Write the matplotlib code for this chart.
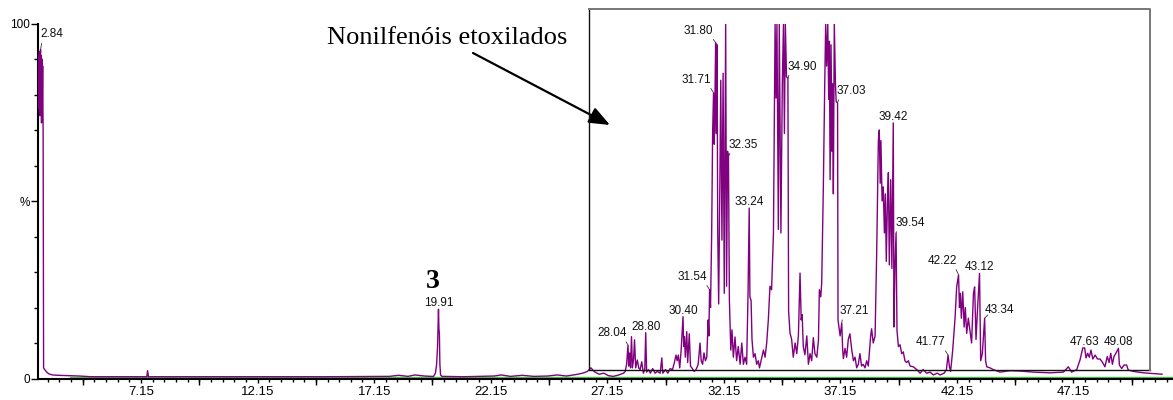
import numpy as np
import matplotlib
matplotlib.use('Agg')
import matplotlib.pyplot as plt

plt.rcParams['font.family'] = ['Liberation Sans', 'DejaVu Sans']

# chromatogram trace, retention time (min) / relative abundance (%)
solvent = [(2.73, 88), (2.75, 76), (2.76, 91), (2.78, 80), (2.79, 92), (2.81, 74),
           (2.82, 90), (2.84, 92.7), (2.85, 78), (2.87, 91), (2.88, 72), (2.90, 90),
           (2.91, 75), (2.93, 88), (2.95, 69), (2.97, 3.0), (3.02, 2.5), (3.10, 1.8),
           (3.20, 1.3), (3.35, 1.0)]
early_base = [(3.6, 0.9), (4.0, 0.8), (4.5, 0.7), (5.0, 0.5), (6.0, 0.5), (7.0, 0.5),
              (7.40, 0.5), (7.43, 2.2), (7.47, 0.5), (9.0, 0.5), (12.0, 0.5),
              (15.0, 0.5), (17.8, 0.6), (18.2, 0.9), (18.6, 0.6), (18.9, 1.0),
              (19.3, 0.7), (19.6, 0.6)]
peak_3 = [(19.70, 0.6), (19.78, 1.5), (19.83, 4), (19.87, 9), (19.91, 19.5),
          (19.93, 14), (19.95, 12.5), (19.97, 4), (20.00, 1.0), (20.06, 0.6)]
mid_base = [(21.0, 0.5), (22.3, 0.7), (22.6, 1.0), (23.0, 0.6), (23.5, 0.9),
            (24.0, 0.6), (24.6, 0.7), (25.0, 1.0), (25.4, 0.7), (25.8, 1.1),
            (26.1, 1.5), (26.3, 2.0), (26.45, 3.0), (26.6, 1.9), (26.8, 1.2),
            (27.0, 1.5), (27.2, 0.8), (27.4, 0.6), (27.6, 0.9), (27.85, 1.5)]
ne_early = [(27.92, 2.0), (27.98, 4.0), (28.04, 9.4), (28.07, 3.5), (28.11, 7.2),
            (28.15, 3.0), (28.19, 11.8), (28.23, 3.0), (28.28, 5.5), (28.32, 10.9),
            (28.37, 3.0), (28.44, 5.2), (28.50, 3.0), (28.56, 2.5), (28.63, 4.7),
            (28.70, 1.5), (28.76, 2.5), (28.80, 12.9), (28.84, 1.8), (28.92, 2.5),
            (29.00, 1.5), (29.10, 2.8), (29.20, 1.5), (29.30, 2.0), (29.42, 1.5),
            (29.49, 5.8), (29.53, 1.5), (29.65, 2.5), (29.75, 1.5), (29.85, 2.8),
            (29.95, 2.5), (30.03, 4.5), (30.10, 6.6), (30.15, 5.0), (30.20, 6.6),
            (30.26, 3.0), (30.32, 8.0), (30.40, 17.4), (30.43, 9.0), (30.46, 11.8),
            (30.50, 6.0), (30.56, 13.2), (30.60, 4.5), (30.67, 12.6), (30.72, 3.5),
            (30.80, 2.8), (30.88, 2.0), (30.96, 2.5), (31.05, 4.0), (31.13, 10.0),
            (31.18, 5.0), (31.24, 4.0), (31.30, 7.2), (31.36, 5.0), (31.42, 6.0),
            (31.48, 16.5), (31.51, 12.0), (31.54, 25.0)]
ne_main = [(31.58, 20), (31.63, 41), (31.67, 69), (31.71, 80.5), (31.74, 66),
           (31.77, 78.6), (31.80, 94.6), (31.83, 69), (31.86, 94), (31.89, 41),
           (31.93, 21), (31.98, 54), (32.02, 84), (32.07, 39), (32.12, 86),
           (32.17, 24), (32.23, 100), (32.27, 26), (32.31, 64), (32.35, 62.5),
           (32.39, 22), (32.45, 8), (32.50, 13.7), (32.56, 6), (32.63, 11.7),
           (32.70, 5), (32.77, 9), (32.85, 4), (32.92, 10), (32.99, 4), (33.06, 6),
           (33.13, 4), (33.19, 24), (33.24, 48), (33.27, 23), (33.32, 22),
           (33.36, 11), (33.42, 6), (33.49, 7), (33.56, 4), (33.63, 5), (33.68, 3),
           (33.78, 6), (33.85, 8), (33.92, 6), (33.99, 10), (34.06, 16.5),
           (34.13, 26), (34.20, 25), (34.28, 41), (34.35, 100), (34.39, 79),
           (34.43, 100), (34.49, 42), (34.53, 100), (34.60, 41), (34.66, 83),
           (34.71, 100), (34.75, 69), (34.79, 100), (34.84, 85), (34.90, 84.5),
           (34.93, 19), (34.99, 12.8), (35.06, 11), (35.13, 6), (35.21, 10),
           (35.28, 7), (35.35, 12), (35.42, 29.7), (35.47, 16.5), (35.51, 18),
           (35.56, 9), (35.63, 6.7), (35.71, 12), (35.78, 4), (35.85, 7),
           (35.92, 5), (35.99, 11.5), (36.06, 7), (36.14, 6), (36.21, 10.8),
           (36.25, 25), (36.31, 23), (36.35, 27), (36.42, 54), (36.48, 83),
           (36.52, 100), (36.56, 88), (36.61, 100), (36.65, 78.6), (36.68, 95),
           (36.71, 56), (36.75, 94), (36.79, 64), (36.82, 83), (36.85, 52),
           (36.89, 100), (36.94, 83), (36.97, 78), (37.03, 77.6), (37.05, 16.5),
           (37.10, 14), (37.14, 12), (37.21, 15.6), (37.25, 8), (37.28, 5.6),
           (37.35, 8.5), (37.42, 6), (37.49, 11), (37.56, 12.6), (37.64, 8),
           (37.71, 5), (37.78, 6), (37.85, 3), (37.92, 4), (37.99, 7), (38.06, 3.5),
           (38.13, 4), (38.21, 3), (38.28, 5), (38.35, 3.5)]
ne_late = [(38.45, 12), (38.49, 14), (38.56, 10), (38.64, 12), (38.71, 36),
           (38.78, 67), (38.82, 70), (38.86, 55), (38.89, 67), (38.94, 50),
           (38.99, 54), (39.04, 41), (39.08, 52), (39.12, 33), (39.17, 50),
           (39.21, 58), (39.25, 32), (39.31, 56), (39.36, 31), (39.42, 72),
           (39.45, 14.5), (39.49, 31), (39.54, 41), (39.58, 13.5), (39.64, 9),
           (39.71, 9.5), (39.78, 7), (39.85, 7.5), (39.92, 5), (39.99, 4.5),
           (40.07, 5), (40.14, 3.5), (40.28, 3.3), (40.43, 2.5), (40.57, 1.5),
           (40.70, 2.5), (40.85, 1.5), (41.00, 1.8), (41.14, 1.0), (41.30, 1.5),
           (41.43, 1.0), (41.60, 1.5), (41.70, 2.5), (41.77, 6.6), (41.83, 3.3),
           (41.88, 2.0), (41.97, 8), (42.07, 17), (42.14, 25.8), (42.22, 29.2),
           (42.26, 20), (42.30, 24), (42.34, 17), (42.40, 24.4), (42.46, 14.5),
           (42.51, 20), (42.57, 12.7), (42.64, 17), (42.71, 13.5), (42.78, 10),
           (42.86, 24), (42.91, 25.8), (42.97, 11), (43.03, 19), (43.12, 29.6),
           (43.17, 5), (43.24, 7), (43.34, 17), (43.38, 5), (43.43, 3.3),
           (43.57, 3.0), (43.71, 2.5), (44.00, 1.8)]
tail = [(44.43, 2.2), (44.86, 2.1), (45.43, 1.8), (46.15, 1.6), (46.72, 1.8),
        (46.93, 3.3), (47.07, 1.8), (47.29, 2.5), (47.43, 5.2), (47.55, 8.6),
        (47.63, 8.6), (47.69, 5.8), (47.76, 7.1), (47.83, 6.0), (47.90, 8.0),
        (47.98, 5.5), (48.08, 6.6), (48.18, 5.5), (48.29, 5.5), (48.40, 4.5),
        (48.50, 3.3), (48.60, 6.2), (48.68, 4.5), (48.75, 7.1), (48.82, 4.0),
        (48.89, 6.2), (48.97, 7.1), (49.08, 8.5), (49.12, 3.8), (49.22, 2.8),
        (49.32, 3.8), (49.43, 3.8), (49.50, 2.4), (49.72, 2.0), (50.15, 1.6),
        (50.58, 1.4), (50.95, 1.2)]

# labelled retention times
peak_rt = [2.84, 19.91, 28.04, 28.80, 30.40, 31.54, 31.71, 31.80, 32.35, 33.24,
           34.90, 37.03, 37.21, 39.42, 39.54, 41.77, 42.22, 43.12, 43.34, 47.63, 49.08]
# text offset from the peak top, pixels
label_offset = {2.84: (11, 12), 28.04: (-16, 9), 31.54: (-17, 10), 31.71: (-17, 10),
                31.80: (-17, 9), 32.35: (15, 9), 34.90: (14, 9), 37.03: (14, 9),
                37.21: (13, 9), 39.54: (14, 7), 41.77: (-17, 10), 42.22: (-16, 11),
                43.34: (15, 5)}

xticks_lab = [7.15, 12.15, 17.15, 22.15, 27.15, 32.15, 37.15, 42.15, 47.15]
box_rt = (26.37, 50.44)
box_pct = (2.4, 104.2)
xlim = (2.73, 51.42)

trace = np.array(solvent + early_base + peak_3 + mid_base + ne_early + ne_main
                 + ne_late + tail)
rt, pct = trace[:, 0], trace[:, 1]

fig = plt.figure(figsize=(11.73, 4.0), dpi=100)
ax = fig.add_axes([38 / 1173, 21.5 / 400, 1135 / 1173, 355 / 400])

# green baseline sitting on the time axis
ax.plot([4.1, xlim[1]], [0.35, 0.35], color='#46c046', lw=1.0, zorder=2)
ax.plot(rt, pct, color='#800080', lw=1.0, zorder=3)

# peak labels
for t in peak_rt:
    h = np.interp(t, rt, pct)
    dx, dy = label_offset.get(t, (0, 3))
    kw = {}
    if dx != 0:
        kw['arrowprops'] = dict(arrowstyle='-', lw=0.6, color='#333333',
                                shrinkA=0, shrinkB=0.5,
                                relpos=(0.9, 0.1) if dx < 0 else (0.1, 0.1))
    ax.annotate('%.2f' % t, xy=(t, h), xytext=(dx, dy), textcoords='offset pixels',
                ha='center', va='baseline', fontsize=8.5, color='#111111',
                annotation_clip=False, zorder=5, **kw)

# frame round the ethoxylate region
ax.plot([box_rt[0], box_rt[0], box_rt[1]], [box_pct[1], box_pct[0], box_pct[0]],
        color='#111111', lw=1.0, clip_on=False, zorder=4)
ax.plot([box_rt[0], box_rt[1], box_rt[1]], [box_pct[1], box_pct[1], box_pct[0]],
        color='#777777', lw=1.4, clip_on=False, zorder=4)

ax.set_xlim(*xlim)
ax.set_ylim(0, 100)
for s in ['top', 'right']:
    ax.spines[s].set_visible(False)
for s in ['left', 'bottom']:
    ax.spines[s].set_linewidth(1.5)
    ax.spines[s].set_color('black')

ax.set_xticks(xticks_lab)
ax.set_xticklabels(['%.2f' % v for v in xticks_lab])
ax.set_xticks(np.arange(3.15, xlim[1], 0.5), minor=True)
ax.tick_params(axis='x', which='major', length=3, width=1, pad=2.5, labelsize=9.5)
ax.tick_params(axis='x', which='minor', length=2.5, width=1)
sec = ax.secondary_xaxis('bottom')
sec.set_xticks(np.arange(4.65, xlim[1], 5))
sec.tick_params(length=4.5, width=1, labelbottom=False)
sec.spines['bottom'].set_visible(False)

ax.set_yticks([0, 50, 100])
ax.set_yticklabels(['0', '%', '100'])
ax.set_yticks(np.arange(10, 100, 10), minor=True)
ax.tick_params(axis='y', which='major', length=5, width=1, pad=0.5, labelsize=8.5)
ax.tick_params(axis='y', which='minor', length=3, width=1)

fig.text(447.5 / 1173, 356.5 / 400, 'Nonilfenóis etoxilados', family='Liberation Serif',
         fontsize=19, ha='center', va='baseline')
fig.text(433 / 1173, 111.7 / 400, '3', family='Liberation Serif', fontweight='bold',
         fontsize=20, ha='center', va='baseline')
ax.annotate('', xy=(610, 275), xycoords='figure pixels', xytext=(473, 347),
            textcoords='figure pixels', annotation_clip=False,
            arrowprops=dict(arrowstyle='-|>,head_length=0.9,head_width=0.36',
                            mutation_scale=14, lw=1.6, color='black',
                            shrinkA=0, shrinkB=0))

fig.savefig('out.png', dpi=100)
